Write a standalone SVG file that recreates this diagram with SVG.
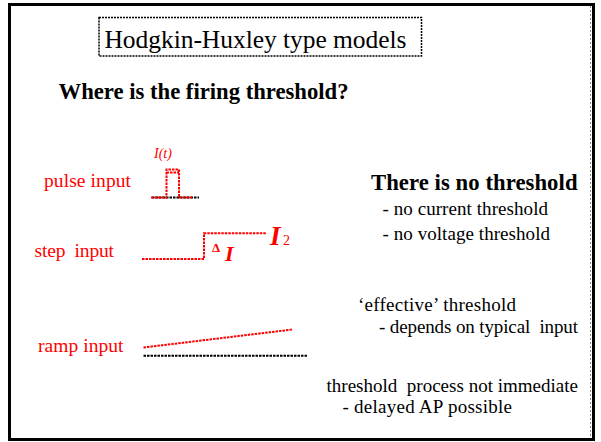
<svg xmlns="http://www.w3.org/2000/svg" width="601" height="442" viewBox="0 0 601 442">
<style>
text{font-family:"Liberation Serif","Times New Roman",serif;}
.blk{fill:#000;}
.red{fill:#ff0000;}
.body{font-size:19px;}
.lbl{font-size:19.5px;}
.bold{font-weight:bold;font-size:22.7px;}
.rd{fill:none;stroke:#ff0000;stroke-width:2;stroke-dasharray:2.5 1;}
.bd{fill:none;stroke:#000;stroke-width:2;stroke-dasharray:2.5 1;}
</style>
<rect width="601" height="442" fill="#fff"/>
<g id="frame">
<rect x="9.5" y="4.5" width="584" height="435" fill="none" stroke="#000" stroke-width="3"/>
<line x1="590.5" y1="6" x2="590.5" y2="438" stroke="#888" stroke-width="1" stroke-dasharray="2 2"/>
</g>
<g id="title">
<rect x="99" y="17.5" width="322.5" height="38.5" fill="none" stroke="#000" stroke-width="1.5" stroke-dasharray="2 1"/>
<text x="104.5" y="48" font-size="25.5" class="blk" textLength="302">Hodgkin-Huxley type models</text>
</g>
<g id="question">
<text x="58.5" y="98.5" class="bold blk" textLength="290">Where is the firing threshold?</text>
</g>
<g id="pulse">
<text x="44" y="186.5" class="lbl red" textLength="87">pulse input</text>
<text x="154" y="158" font-size="14" font-style="italic" class="red">I(t)</text>
</g>
<g id="step">
<text x="34.5" y="256.5" class="lbl red" textLength="79.5">step&#160; input</text>
<text x="212" y="252" font-size="13" font-weight="bold" class="red">Δ</text>
<text x="225" y="261" font-size="22" font-weight="bold" font-style="italic" class="red">I</text>
<text x="270" y="245" font-size="27" font-weight="bold" font-style="italic" class="red">I</text>
<text x="283" y="245" font-size="14" class="red">2</text>
</g>
<g id="ramp">
<text x="38" y="351.5" class="lbl red" textLength="85.5">ramp input</text>
</g>
<g id="connectors">
<line x1="152" y1="197.5" x2="199" y2="197.5" class="bd"/>
<polyline points="151,197.5 166.5,197.5 166.5,169.5 179,169.5 179,197.5 193,197.5" class="rd"/>
<line x1="166.5" y1="172.5" x2="179" y2="172.5" class="rd"/>
<polyline points="142,259 204,259 204,233.3 266.5,233.3" class="rd"/>
<line x1="143.5" y1="355.7" x2="307" y2="355.7" class="bd"/>
<line x1="143.5" y1="347.5" x2="292.5" y2="329.5" class="rd"/>
</g>
<g id="nothreshold">
<text x="371" y="190" class="bold blk" textLength="206.5">There is no threshold</text>
<text x="382.5" y="215" class="body blk" textLength="165.5">- no current threshold</text>
<text x="382.5" y="240" class="body blk" textLength="167.5">- no voltage threshold</text>
</g>
<g id="effective">
<text x="358" y="311" class="body blk" textLength="158">‘effective’ threshold</text>
<text x="379" y="333" class="body blk" textLength="199">- depends on typical&#160; input</text>
</g>
<g id="delayed">
<text x="326.5" y="391.5" class="body blk" textLength="251.5">threshold&#160; process not immediate</text>
<text x="342.5" y="413" class="body blk" textLength="169.5">- delayed AP possible</text>
</g>
</svg>
